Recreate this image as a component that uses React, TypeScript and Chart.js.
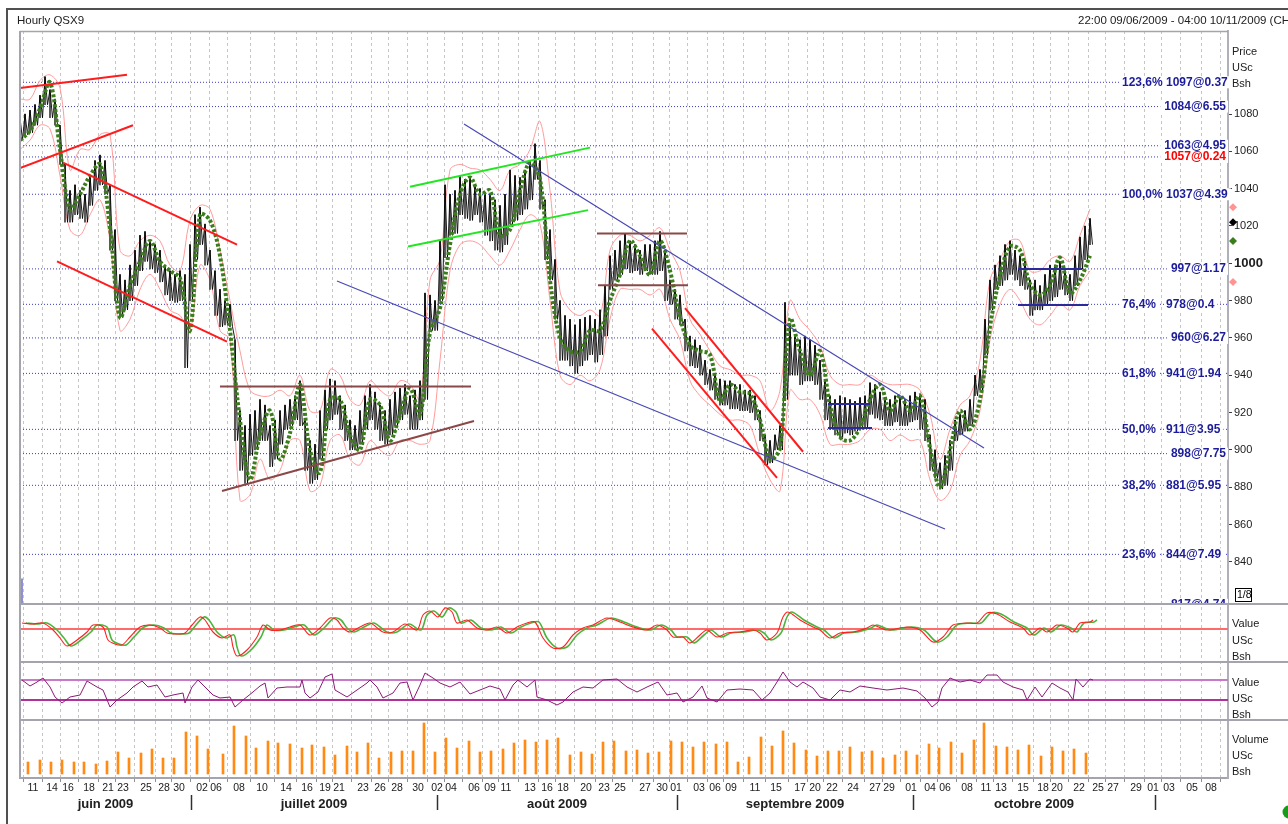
import React, { useEffect, useRef } from 'react';
import { Chart, registerables } from 'chart.js';

Chart.register(...registerables);

const FONT = "'Liberation Sans', Arial, Helvetica, sans-serif";

// x axis unit: hourly bar index since 09/06/2009 22:00
const X_MAX = 2416;

const dayTickHours = [26, 64, 96, 138, 176, 206, 252, 288, 318, 364, 392, 438, 484, 532, 574, 610, 638, 686, 720, 754, 796, 834, 862, 908, 940, 972, 1020, 1054, 1086, 1132, 1168, 1200, 1250, 1284, 1312, 1358, 1390, 1422, 1470, 1512, 1560, 1590, 1624, 1666, 1710, 1738, 1782, 1820, 1850, 1894, 1932, 1962, 2006, 2046, 2074, 2118, 2156, 2186, 2232, 2266, 2298, 2344, 2382];
const dayTickLabels = ['11', '14', '16', '18', '21', '23', '25', '28', '30', '02', '06', '08', '10', '14', '16', '19', '21', '23', '26', '28', '30', '02', '04', '06', '09', '11', '13', '16', '18', '20', '23', '25', '27', '30', '01', '03', '06', '09', '11', '15', '17', '20', '22', '24', '27', '29', '01', '04', '06', '08', '11', '13', '15', '18', '20', '22', '25', '27', '29', '01', '03', '05', '08'];

const monthStartHours = [342, 834, 1314, 1786, 2270];
const monthLabelHours = [171, 588, 1074, 1550, 2028];
const monthLabels = ['juin 2009', 'juillet 2009', 'août 2009', 'septembre 2009', 'octobre 2009'];

const priceTicks = [840, 860, 880, 900, 920, 940, 960, 980, 1000, 1020, 1040, 1060, 1080];

// hourly price, sampled every PRICE_STEP bars
const PRICE_STEP = 10;
const priceHigh = [
  1078, 1080, 1082, 1085, 1090, 1100, 1093, 1088, 1074, 1053,
  1039, 1042, 1039, 1037, 1047, 1055, 1058, 1055, 1042, 1018,
  994, 991, 999, 1007, 1015, 1017, 1012, 1010, 1007, 999,
  996, 994, 996, 994, 1010, 1026, 1030, 1021, 1007, 996,
  986, 980, 978, 959, 921, 913, 919, 921, 927, 924,
  913, 916, 921, 924, 927, 929, 937, 916, 905, 903,
  921, 932, 938, 937, 929, 924, 916, 913, 921, 929,
  935, 931, 924, 921, 927, 931, 933, 935, 929, 932,
  937, 984, 983, 980, 1012, 1042, 1037, 1039, 1047, 1045,
  1046, 1042, 1040, 1038, 1037, 1034, 1031, 1037, 1050, 1047,
  1046, 1050, 1055, 1064, 1055, 1034, 1018, 1002, 980, 972,
  970, 967, 970, 971, 972, 970, 975, 988, 1004, 1007,
  1012, 1016, 1012, 1010, 1007, 1010, 1010, 1012, 1017, 1007,
  991, 986, 983, 970, 961, 959, 956, 948, 943, 940,
  938, 937, 937, 935, 935, 932, 932, 929, 921, 908,
  905, 908, 913, 979, 967, 961, 959, 961, 959, 956,
  948, 937, 929, 927, 929, 928, 927, 926, 928, 929,
  936, 935, 931, 928, 927, 929, 928, 927, 929, 931,
  929, 927, 908, 900, 893, 897, 905, 916, 919, 921,
  927, 940, 943, 970, 991, 999, 1004, 1010, 1012, 1007,
  1004, 1001, 991, 991, 988, 994, 999, 999, 1001, 996,
  994, 1004, 1014, 1020, 1024,
];
const priceLow = [
  1066, 1069, 1070, 1074, 1078, 1085, 1078, 1074, 1053, 1022,
  1022, 1026, 1024, 1022, 1031, 1039, 1042, 1037, 1007, 980,
  971, 975, 980, 988, 996, 1001, 997, 995, 990, 983,
  980, 979, 980, 944, 980, 1002, 1010, 999, 986, 972,
  966, 967, 966, 905, 889, 882, 897, 900, 905, 905,
  891, 895, 903, 911, 913, 916, 913, 889, 882, 884,
  895, 911, 916, 919, 911, 905, 900, 900, 903, 911,
  916, 911, 905, 903, 908, 913, 916, 919, 911, 911,
  916, 927, 964, 964, 980, 1003, 1015, 1016, 1026, 1024,
  1023, 1026, 1022, 1015, 1012, 1007, 1006, 1010, 1021, 1023,
  1026, 1029, 1034, 1045, 1029, 1002, 991, 970, 948, 948,
  945, 941, 945, 948, 951, 947, 951, 961, 986, 991,
  994, 997, 995, 996, 994, 996, 994, 994, 996, 980,
  978, 970, 967, 953, 945, 944, 940, 935, 932, 927,
  924, 924, 922, 922, 921, 921, 920, 916, 905, 892,
  893, 900, 900, 927, 940, 940, 935, 937, 937, 935,
  927, 916, 911, 908, 906, 909, 908, 910, 911, 912,
  919, 917, 916, 913, 913, 915, 913, 913, 915, 916,
  911, 905, 889, 885, 879, 881, 889, 905, 908, 910,
  913, 929, 932, 951, 975, 986, 988, 991, 994, 991,
  988, 986, 972, 975, 975, 978, 980, 982, 986, 983,
  980, 988, 997, 1002, 1010,
];

// indicators sampled every IND_STEP bars
const IND_STEP = 20;
const movingAvg = [
  1066, 1071, 1083, 1097, 1061, 1029, 1037, 1047, 1053, 1019,
  971, 988, 1001, 1012, 1001, 996, 992, 964, 1026, 1023,
  1004, 964, 916, 884, 908, 921, 895, 909, 935, 900,
  888, 927, 927, 908, 900, 927, 924, 905, 919, 933,
  919, 963, 976, 1010, 1037, 1046, 1037, 1039, 1015, 1018,
  1039, 1054, 1045, 991, 960, 953, 953, 964, 964, 980,
  994, 1012, 1004, 994, 1012, 996, 971, 956, 953, 951,
  926, 935, 931, 930, 916, 895, 901, 970, 953, 940,
  953, 924, 907, 905, 912, 927, 935, 921, 929, 921,
  929, 901, 880, 900, 921, 911, 927, 966, 993, 1009,
  1007, 989, 983, 988, 1003, 984, 991, 1004,
];
const bandUpper = [
  1088, 1088, 1098, 1101, 1094, 1050, 1061, 1061, 1069, 1069,
  1007, 1004, 1012, 1015, 1012, 999, 996, 1023, 1031, 1029,
  1007, 980, 953, 932, 929, 929, 932, 929, 940, 921,
  921, 943, 940, 927, 924, 937, 932, 929, 937, 935,
  927, 991, 1002, 1050, 1053, 1051, 1050, 1045, 1039, 1050,
  1053, 1061, 1076, 1039, 985, 975, 972, 975, 972, 1007,
  1015, 1015, 1012, 1015, 1019, 1007, 996, 970, 962, 953,
  945, 943, 940, 940, 937, 921, 932, 980, 970, 964,
  956, 940, 935, 935, 935, 940, 937, 935, 935, 935,
  932, 919, 895, 911, 924, 929, 948, 991, 1002, 1012,
  1012, 996, 996, 1002, 1004, 1001, 1015, 1029,
];
const bandLower = [
  1061, 1066, 1074, 1072, 1047, 1018, 1015, 1026, 1034, 1012,
  964, 970, 986, 994, 986, 975, 972, 964, 999, 991,
  964, 959, 873, 876, 895, 884, 889, 905, 905, 878,
  881, 905, 908, 895, 892, 905, 900, 897, 905, 905,
  903, 905, 948, 996, 1010, 1012, 1010, 1004, 999, 1007,
  1018, 1026, 1021, 980, 940, 935, 940, 937, 943, 970,
  986, 986, 986, 983, 986, 970, 959, 937, 929, 924,
  919, 916, 916, 913, 897, 884, 878, 932, 927, 927,
  919, 903, 903, 903, 905, 911, 911, 905, 908, 905,
  905, 884, 873, 878, 897, 905, 921, 959, 978, 986,
  980, 970, 967, 972, 978, 975, 988, 996,
];
const lastMarkers = [1030, 1022, 1012, 990];

// Fibonacci levels
const fibValues = [1097, 1084, 1063, 1057, 1037, 997, 978, 960, 941, 911, 898, 881, 844, 817];
const fibPriceLabels = ['1097@0.37', '1084@6.55', '1063@4.95', '1057@0.24', '1037@4.39', '997@1.17', '978@0.4', '960@6.27', '941@1.94', '911@3.95', '898@7.75', '881@5.95', '844@7.49', '817@4.74'];
const fibPctLabels = ['123,6%', '', '', '', '100,0%', '', '76,4%', '', '61,8%', '50,0%', '', '38,2%', '23,6%', ''];
const fibRedIndex = 3;

// trend lines: [hourStart, priceStart, hourEnd, priceEnd]
const redLines = [
  [0, 1094, 214, 1101],
  [0, 1051, 226, 1074],
  [86, 1054, 434, 1010],
  [74, 1001, 414, 958],
  [1264, 965, 1514, 885],
  [1330, 976, 1566, 899],
];
const limeLines = [
  [780, 1041, 1140, 1062],
  [776, 1009, 1136, 1028.5],
];
const brownLines = [
  [400, 934, 902, 934],
  [404, 878, 908, 915.5],
  [1154, 1016, 1334, 1016],
  [1156, 988.3, 1336, 988.3],
];
const blueLines = [
  [888, 1074.6, 1928, 901],
  [634, 990.5, 1850, 857.6],
  [4, 831, 4, 817.4],
];
const navyLines = [
  [1616, 924.6, 1700, 924.6],
  [1616, 911.7, 1704, 911.7],
  [1996, 996.9, 2124, 996.9],
  [1996, 977.6, 2136, 977.6],
];

// oscillator panel
const oscHours = [4, 26, 46, 66, 80, 94, 114, 134, 146, 166, 176, 190, 204, 220, 240, 260, 280, 294, 314, 330, 344, 360, 370, 386, 404, 420, 426, 434, 454, 474, 486, 500, 520, 540, 560, 580, 600, 620, 634, 646, 660, 680, 700, 726, 746, 770, 794, 806, 820, 836, 850, 864, 874, 894, 914, 934, 954, 974, 994, 1014, 1030, 1046, 1066, 1086, 1106, 1126, 1146, 1174, 1200, 1226, 1254, 1274, 1294, 1306, 1326, 1340, 1360, 1374, 1394, 1414, 1440, 1466, 1480, 1494, 1514, 1526, 1536, 1560, 1586, 1600, 1620, 1640, 1666, 1694, 1706, 1734, 1774, 1800, 1826, 1846, 1866, 1894, 1914, 1934, 1954, 1980, 2006, 2020, 2040, 2054, 2074, 2094, 2106, 2120, 2140, 2146];
const oscValues = [6, 5, 6, -1, -9, -17, -11, -3, 4, 2, -11, -15, -16, -8, 2, 4, 1, -4, -5, -4, 4, 12, 9, -3, -9, -6, -18, -27, -21, -8, 4, -1, -1, 2, 4, -6, 1, 11, 9, 1, -3, 2, 6, -3, -3, 5, -1, 14, 18, 12, 21, 17, 6, 9, 1, -1, 2, -4, 2, 6, 7, -9, -19, -18, -6, 1, 4, 11, 7, 2, -1, 4, -1, -8, -8, -14, -6, -1, -8, -4, -3, -1, -4, -11, -4, 12, 17, 9, 2, -1, -9, -4, -3, 1, 4, -1, 2, -1, -13, -8, 4, 6, 6, 16, 15, 7, 1, -6, 1, -3, 4, 1, -3, 6, 7, 9];
const OSC_SIGNAL_LAG = 8;

// RSI panel
const rsiHours = [4, 20, 34, 46, 60, 70, 84, 100, 120, 134, 154, 166, 180, 194, 214, 226, 244, 256, 274, 290, 306, 326, 330, 344, 356, 370, 386, 400, 420, 430, 446, 466, 480, 490, 496, 514, 534, 560, 564, 570, 580, 596, 610, 624, 630, 654, 674, 694, 700, 714, 726, 746, 760, 774, 786, 800, 810, 826, 840, 860, 880, 900, 920, 940, 960, 970, 986, 996, 1014, 1030, 1034, 1054, 1074, 1086, 1106, 1126, 1146, 1166, 1194, 1214, 1234, 1254, 1276, 1294, 1314, 1326, 1346, 1364, 1374, 1394, 1414, 1440, 1466, 1484, 1500, 1514, 1526, 1540, 1554, 1566, 1586, 1600, 1620, 1640, 1660, 1680, 1706, 1734, 1766, 1794, 1810, 1824, 1836, 1844, 1860, 1880, 1900, 1920, 1934, 1954, 1966, 1986, 2006, 2014, 2030, 2044, 2064, 2080, 2096, 2106, 2112, 2126, 2140, 2146];
const rsiValues = [70, 58, 66, 74, 56, 36, 24, 36, 40, 68, 56, 50, 16, 30, 44, 56, 68, 56, 60, 36, 40, 44, 24, 56, 70, 56, 40, 34, 36, 16, 30, 46, 58, 64, 34, 54, 56, 56, 70, 44, 34, 46, 76, 82, 50, 36, 50, 64, 70, 56, 34, 44, 64, 66, 30, 60, 84, 74, 64, 56, 66, 42, 50, 58, 52, 30, 60, 70, 56, 70, 36, 30, 20, 26, 46, 56, 54, 70, 72, 56, 46, 56, 66, 40, 44, 26, 36, 58, 34, 26, 50, 52, 50, 30, 44, 66, 86, 66, 56, 66, 54, 36, 30, 50, 46, 58, 54, 50, 54, 48, 34, 16, 26, 54, 74, 66, 70, 64, 80, 80, 66, 56, 50, 30, 56, 36, 64, 54, 46, 30, 72, 56, 72, 70];
const rsiUpper = 70;
const rsiLower = 30;

// volume panel (session peaks, thousands)
const volHours = [16, 40, 62, 84, 108, 128, 152, 174, 196, 218, 242, 264, 286, 308, 332, 354, 376, 406, 428, 452, 472, 496, 516, 540, 564, 584, 608, 630, 654, 674, 696, 718, 742, 764, 786, 808, 830, 852, 874, 898, 920, 942, 966, 988, 1010, 1032, 1054, 1076, 1100, 1122, 1144, 1166, 1188, 1212, 1234, 1256, 1278, 1302, 1324, 1346, 1368, 1392, 1414, 1436, 1458, 1482, 1504, 1526, 1548, 1572, 1594, 1616, 1638, 1660, 1684, 1704, 1726, 1750, 1772, 1794, 1818, 1838, 1862, 1884, 1908, 1928, 1952, 1974, 1996, 2018, 2042, 2064, 2086, 2108, 2132];
const volValues = [6, 7, 6, 7, 6, 6, 5, 6.5, 11, 8, 10.5, 12.5, 8, 8, 21, 19, 12.5, 10, 24, 19, 13, 16.5, 15.5, 15, 13, 14.5, 13.5, 9.5, 14, 11, 15.5, 8, 11, 11.5, 11.5, 25.5, 11, 18, 13, 16.5, 11, 11.5, 12.5, 15.5, 17, 16, 17, 18, 9.5, 11, 10, 16, 16.5, 11.5, 12, 10.5, 11, 16.5, 16, 13.5, 16, 15, 16, 6, 8.5, 18.5, 14, 21.5, 15.5, 12, 9, 11.5, 11.5, 13.5, 11, 11.5, 8, 9.5, 11.5, 9.5, 15, 13, 16, 10.5, 17, 25.5, 14, 13.5, 12, 14.5, 9, 13.5, 11.5, 12.5, 10.5];

function segDatasets(lines: number[][], color: string, width: number, order: number) {
  return lines.map((l) => ({
    type: 'line',
    data: [{ x: l[0], y: l[1] }, { x: l[2], y: l[3] }],
    borderColor: color,
    borderWidth: width,
    pointRadius: 0,
    xAxisID: 'x',
    yAxisID: 'yPrice',
    order,
  }));
}

const decorPlugin = {
  id: 'decor',
  beforeDraw(chart: any) {
    const ctx = chart.ctx;
    ctx.save();
    ctx.fillStyle = '#ffffff';
    ctx.fillRect(0, 0, chart.width, chart.height);
    ctx.restore();
  },
  afterDatasetsDraw(chart: any) {
    const ctx = chart.ctx;
    const ys = chart.scales.yPrice;
    const area = chart.chartArea;
    ctx.save();
    ctx.beginPath();
    ctx.rect(area.left, ys.top, area.right - area.left + 4, ys.bottom - ys.top);
    ctx.clip();
    ctx.font = `bold 12px ${FONT}`;
    ctx.textBaseline = 'middle';
    fibValues.forEach((v, i) => {
      const y = ys.getPixelForValue(v);
      const color = i === fibRedIndex ? '#ff0000' : '#1c1c9a';
      const pct = fibPctLabels[i];
      const lab = fibPriceLabels[i];
      const wl = ctx.measureText(lab).width;
      if (pct) {
        const px = area.right - 106;
        const wp = ctx.measureText(pct).width;
        ctx.fillStyle = '#fff';
        ctx.fillRect(px - 3, y - 6, wp + 5, 12);
        ctx.fillRect(area.right - 63, y - 6, wl + 4, 12);
        ctx.fillStyle = color;
        ctx.textAlign = 'left';
        ctx.fillText(pct, px, y);
        ctx.fillText(lab, area.right - 62, y);
      } else {
        const x0 = area.right - 2 - wl;
        ctx.fillStyle = '#fff';
        ctx.fillRect(x0 - 4, y - 6, wl + 6, 12);
        ctx.fillStyle = color;
        ctx.textAlign = 'left';
        ctx.fillText(lab, x0, y);
      }
    });
    ctx.restore();
  },
  afterDraw(chart: any) {
    const ctx = chart.ctx;
    const area = chart.chartArea;
    const xs = chart.scales.x;
    const yp = chart.scales.yPrice;
    const yo = chart.scales.yOsc;
    const yr = chart.scales.yRsi;
    const yv = chart.scales.yVol;
    const W = chart.width;
    ctx.save();
    // outer frame
    ctx.strokeStyle = '#505050';
    ctx.lineWidth = 2;
    ctx.beginPath();
    ctx.moveTo(6, 9);
    ctx.lineTo(W, 9);
    ctx.moveTo(7, 9);
    ctx.lineTo(7, chart.height);
    ctx.stroke();
    // title texts
    ctx.fillStyle = '#202020';
    ctx.font = `11.5px ${FONT}`;
    ctx.textBaseline = 'middle';
    ctx.textAlign = 'left';
    ctx.fillText('Hourly QSX9', 17, 20.5);
    ctx.fillText('22:00 09/06/2009 - 04:00 10/11/2009 (CHG', 1078, 20.5);
    // panel frame
    ctx.strokeStyle = '#a4a4ae';
    ctx.lineWidth = 1.5;
    ctx.beginPath();
    ctx.moveTo(area.left, yp.top + 0.5);
    ctx.lineTo(area.right, yp.top + 0.5);
    ctx.stroke();
    ctx.lineWidth = 2;
    ctx.beginPath();
    ctx.moveTo(area.left, yp.top);
    ctx.lineTo(area.left, area.bottom);
    ctx.stroke();
    [yo.top, yr.top, yv.top].forEach((y) => {
      ctx.beginPath();
      ctx.moveTo(area.left, y);
      ctx.lineTo(W, y);
      ctx.stroke();
    });
    // side labels
    const tx = area.right + 4;
    ctx.fillStyle = '#202020';
    ctx.font = `11px ${FONT}`;
    const groups: [any, string[], number[]][] = [
      [yp, ['Price', 'USc', 'Bsh'], [21, 37, 53]],
      [yo, ['Value', 'USc', 'Bsh'], [20, 37, 53]],
      [yr, ['Value', 'USc', 'Bsh'], [21, 37, 53]],
      [yv, ['Volume', 'USc', 'Bsh'], [20, 36, 52]],
    ];
    groups.forEach(([sc, texts, offs]) => {
      ctx.save();
      ctx.beginPath();
      ctx.rect(area.right + 2, sc.top + 1, W - area.right, sc.bottom - sc.top - 2);
      ctx.clip();
      texts.forEach((t, i) => ctx.fillText(t, tx, sc.top + offs[i]));
      ctx.restore();
    });
    // last value markers
    const mColors = ['#ff9494', '#000000', '#3a7d1a', '#ff9494'];
    lastMarkers.forEach((v, i) => {
      const y = yp.getPixelForValue(v);
      const x = area.right + 5;
      ctx.fillStyle = mColors[i];
      ctx.beginPath();
      ctx.moveTo(x, y - 4);
      ctx.lineTo(x + 4, y);
      ctx.lineTo(x, y + 4);
      ctx.lineTo(x - 4, y);
      ctx.closePath();
      ctx.fill();
    });
    // 1/8 box
    ctx.strokeStyle = '#000';
    ctx.lineWidth = 1;
    ctx.strokeRect(area.right + 7.5, yp.bottom - 15.5, 16, 13);
    ctx.fillStyle = '#000';
    ctx.font = `10.5px ${FONT}`;
    ctx.fillText('1/8', area.right + 9, yp.bottom - 9);
    // month separators
    ctx.strokeStyle = '#303030';
    ctx.lineWidth = 1.5;
    monthStartHours.forEach((h) => {
      const x = Math.round(xs.getPixelForValue(h)) + 0.5;
      ctx.beginPath();
      ctx.moveTo(x, area.bottom + 17);
      ctx.lineTo(x, area.bottom + 32);
      ctx.stroke();
    });
    // status dot
    ctx.fillStyle = '#1a9a1a';
    ctx.beginPath();
    ctx.arc(W + 1, area.bottom + 34, 6.5, 0, Math.PI * 2);
    ctx.fill();
    ctx.restore();
  },
};

export default function App() {
  const ref = useRef<HTMLCanvasElement>(null);
  useEffect(() => {
    if (!ref.current) return;
    const zigzag: any[] = [];
    priceHigh.forEach((h, i) => {
      zigzag.push({ x: i * PRICE_STEP, y: h });
      zigzag.push({ x: i * PRICE_STEP + PRICE_STEP / 2, y: priceLow[i] });
    });
    const ind = (arr: number[]) => arr.map((v, i) => ({ x: i * IND_STEP, y: v }));
    const datasets: any[] = [
      ...fibValues.map((v) => ({
        type: 'line',
        data: [{ x: 0, y: v }, { x: X_MAX, y: v }],
        borderColor: '#3a3ac4',
        borderWidth: 1,
        borderDash: [1, 2],
        pointRadius: 0,
        xAxisID: 'x',
        yAxisID: 'yPrice',
        order: 20,
      })),
      { type: 'line', data: ind(bandUpper), borderColor: '#ff9c9c', borderWidth: 1, tension: 0.35, pointRadius: 0, xAxisID: 'x', yAxisID: 'yPrice', order: 15 },
      { type: 'line', data: ind(bandLower), borderColor: '#ff9c9c', borderWidth: 1, tension: 0.35, pointRadius: 0, xAxisID: 'x', yAxisID: 'yPrice', order: 15 },
      {
        type: 'bar',
        data: priceHigh.map((h, i) => ({ x: i * PRICE_STEP, y: [priceLow[i], h] })),
        backgroundColor: '#3a3a3a',
        barThickness: 1,
        grouped: false,
        xAxisID: 'x',
        yAxisID: 'yPrice',
        order: 14,
      },
      { type: 'line', data: zigzag, borderColor: '#000000', borderWidth: 0.9, pointRadius: 0, xAxisID: 'x', yAxisID: 'yPrice', order: 13 },
      { type: 'line', data: ind(movingAvg), borderColor: '#3a7d1a', borderWidth: 4, borderDash: [3, 2], tension: 0.35, pointRadius: 0, xAxisID: 'x', yAxisID: 'yPrice', order: 12 },
      ...segDatasets(blueLines, '#4848b4', 1.2, 11),
      ...segDatasets(brownLines, '#8a4848', 2, 10),
      ...segDatasets(redLines, '#ff1c1c', 2, 10),
      ...segDatasets(limeLines, '#22e622', 2, 10),
      ...segDatasets(navyLines, '#2a2a9c', 2, 10),
      // oscillator
      { type: 'line', data: [{ x: 0, y: 0 }, { x: X_MAX, y: 0 }], borderColor: '#ff6a6a', borderWidth: 2, pointRadius: 0, xAxisID: 'x', yAxisID: 'yOsc', order: 9 },
      { type: 'line', data: oscHours.map((h, i) => ({ x: h + OSC_SIGNAL_LAG, y: oscValues[i] })), borderColor: '#4cb43c', borderWidth: 1.6, tension: 0.3, pointRadius: 0, xAxisID: 'x', yAxisID: 'yOsc', order: 8 },
      { type: 'line', data: oscHours.map((h, i) => ({ x: h, y: oscValues[i] })), borderColor: '#ff2020', borderWidth: 1.1, tension: 0.3, pointRadius: 0, xAxisID: 'x', yAxisID: 'yOsc', order: 7 },
      // RSI
      { type: 'line', data: [{ x: 0, y: rsiUpper }, { x: X_MAX, y: rsiUpper }], borderColor: '#c77ac7', borderWidth: 2, pointRadius: 0, xAxisID: 'x', yAxisID: 'yRsi', order: 6 },
      { type: 'line', data: [{ x: 0, y: rsiLower }, { x: X_MAX, y: rsiLower }], borderColor: '#b0309c', borderWidth: 2, pointRadius: 0, xAxisID: 'x', yAxisID: 'yRsi', order: 6 },
      { type: 'line', data: rsiHours.map((h, i) => ({ x: h, y: rsiValues[i] })), borderColor: '#8c1a78', borderWidth: 1, pointRadius: 0, xAxisID: 'x', yAxisID: 'yRsi', order: 5 },
      // volume
      {
        type: 'bar',
        data: volHours.map((h, i) => ({ x: h, y: volValues[i] })),
        backgroundColor: '#ff8a14',
        barThickness: 2,
        grouped: false,
        xAxisID: 'x',
        yAxisID: 'yVol',
        order: 4,
      },
    ];

    const sideAxis = (extra: any) => ({
      type: 'linear',
      position: 'right',
      stack: 'panels',
      afterFit: (s: any) => { s.width = 60; },
      border: { display: true, color: '#b0b0ba', width: 2 },
      ...extra,
    });

    const chart = new Chart(ref.current, {
      type: 'line',
      data: { datasets },
      plugins: [decorPlugin],
      options: {
        responsive: false,
        animation: false,
        devicePixelRatio: 1,
        events: [],
        layout: { padding: { left: 20, top: 31, right: 0, bottom: 0 } },
        plugins: { legend: { display: false }, tooltip: { enabled: false }, title: { display: false } },
        elements: { point: { radius: 0 }, line: { tension: 0 } },
        scales: {
          x: {
            type: 'linear',
            position: 'bottom',
            min: 0,
            max: X_MAX,
            offset: false,
            weight: 0,
            afterBuildTicks: (s: any) => { s.ticks = dayTickHours.map((v) => ({ value: v })); },
            afterFit: (s: any) => { s.height = 18; },
            grid: { display: true, color: '#c6c6c6', lineWidth: 1, drawTicks: true, tickLength: 4, tickColor: '#909090' },
            border: { display: true, color: '#a4a4ae', width: 2, dash: [3, 3] },
            ticks: {
              autoSkip: false,
              maxRotation: 0,
              minRotation: 0,
              padding: 0,
              color: '#202020',
              font: { family: FONT, size: 10.5 },
              callback: (_v: any, i: number) => dayTickLabels[i],
            },
          },
          xMonth: {
            type: 'linear',
            position: 'bottom',
            min: 0,
            max: X_MAX,
            offset: false,
            weight: 1,
            afterBuildTicks: (s: any) => { s.ticks = monthLabelHours.map((v) => ({ value: v })); },
            afterFit: (s: any) => { s.height = 28; },
            grid: { display: false, drawTicks: false },
            border: { display: false },
            ticks: {
              autoSkip: false,
              maxRotation: 0,
              minRotation: 0,
              padding: 1,
              color: '#202020',
              font: { family: FONT, size: 13, weight: 'bold' },
              callback: (_v: any, i: number) => monthLabels[i],
            },
          },
          yPrice: sideAxis({
            stackWeight: 573,
            min: 817.4,
            max: 1124.5,
            afterBuildTicks: (s: any) => { s.ticks = priceTicks.map((v) => ({ value: v })); },
            grid: { display: true, drawOnChartArea: false, drawTicks: true, tickLength: 4, tickColor: '#404040', color: '#404040' },
            ticks: {
              padding: 2,
              color: '#202020',
              font: (c: any) => (c.tick && c.tick.value === 1000 ? { family: FONT, size: 13, weight: 'bold' } : { family: FONT, size: 11 }),
              callback: (v: any) => String(v),
            },
          }),
          yOsc: sideAxis({ stackWeight: 58, min: -33, max: 25, grid: { display: false }, ticks: { display: false } }),
          yRsi: sideAxis({ stackWeight: 58, min: -10, max: 106, grid: { display: false }, ticks: { display: false } }),
          yVol: sideAxis({ stackWeight: 58, min: -2, max: 27, grid: { display: false }, ticks: { display: false } }),
        },
      } as any,
    } as any);
    return () => chart.destroy();
  }, []);

  return (
    <div style={{ position: 'absolute', left: 0, top: 0, width: 1288, height: 824, background: '#fff', overflow: 'hidden' }}>
      <canvas ref={ref} width={1288} height={824} style={{ display: 'block', width: 1288, height: 824 }} />
    </div>
  );
}
